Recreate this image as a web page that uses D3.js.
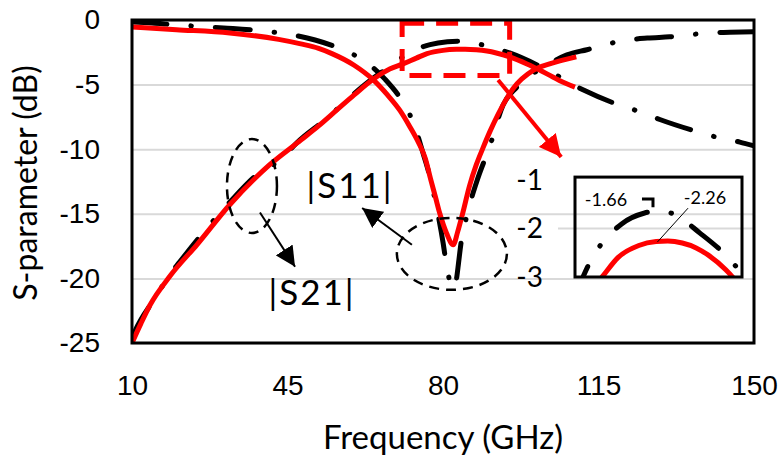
<!DOCTYPE html>
<html>
<head>
<meta charset="utf-8">
<script src="https://d3js.org/d3.v7.min.js"></script>
<style>
  body { margin: 0; background: #fff; }
  svg { display: block; font-family: Lato, "Open Sans", sans-serif; }
  .grid line { stroke: #d9d9d9; stroke-width: 2; }
  .tick-label { font-size: 28px; fill: #000; }
</style>
</head>
<body>
<svg id="chart" width="780" height="460"></svg>
<script>
// ---- data ----
const xTicks = [10, 45, 80, 115, 150];
const yTicks = [0, -5, -10, -15, -20, -25];
const insetTicks = [-1, -2, -3];

// black dash-dot |S21|
const s21BlackFreq = [10, 10.5, 15.6, 18.1, 20.8, 26.9, 32, 38, 43.8, 47.1, 53.9, 59, 64.7, 68.5, 72, 77.1, 81, 83.5, 86, 90.6, 95, 102.5, 111.5, 119.8, 124.3, 128.8, 137.8, 141.9, 146.8, 150];
const s21BlackDb   = [-24.6, -24.2, -21.3, -19.9, -18.7, -16.1, -14.1, -12.0, -10.7, -9.5, -7.6, -6.0, -4.4, -3.5, -2.6, -1.9, -1.68, -1.64, -1.7, -2.1, -2.55, -3.7, -5.4, -6.6, -7.1, -7.7, -8.7, -9.1, -9.45, -9.75];

// black dash-dot |S11|
const s11BlackFreq = [10, 14.5, 19, 27.5, 32.7, 38, 46, 51.2, 56, 60, 63.6, 67, 70.3, 72.5, 74.1, 75.5, 77.1, 78.9, 80, 80.8, 81.8, 82.6, 83.1, 83.5, 84, 85.4, 87.6, 90.6, 93.5, 96.6, 103.4, 107.9, 112.4, 121.4, 126, 131, 140, 144.6, 150];
const s11BlackDb   = [-0.15, -0.23, -0.35, -0.55, -0.65, -0.8, -1.15, -1.55, -2.1, -2.7, -3.5, -4.6, -6.0, -7.3, -8.7, -10.3, -12.2, -15.1, -17.2, -19.0, -20.5, -20.8, -19.9, -18.8, -17.4, -15.1, -12.5, -9.7, -6.6, -5.2, -3.5, -2.7, -2.3, -1.55, -1.4, -1.3, -1.0, -0.95, -0.9];

// red |S21|
const s21RedFreq = [10, 12, 14, 18.6, 24.6, 32, 41, 48, 52, 56, 60, 64.2, 68, 71, 74, 76.4, 80, 83, 85, 87.5, 89.9, 92, 95, 98.9, 102.5, 106.3, 109.7];
const s21RedDb   = [-25, -23.5, -22.1, -19.8, -17.4, -14.3, -11.2, -9.3, -8.2, -7.0, -5.8, -4.6, -3.8, -3.4, -2.95, -2.6, -2.35, -2.27, -2.26, -2.3, -2.4, -2.55, -2.85, -3.4, -4.0, -4.7, -5.2];

// red |S11|
const s11RedFreq = [10, 20, 32, 43, 48, 52, 55, 60, 64.2, 67.5, 70.3, 72.6, 74.5, 76, 77.2, 78.3, 79.3, 80.8, 82.3, 83.3, 84.4, 86, 87.5, 89, 90.6, 92.4, 95.8, 100.3, 104, 110];
const s11RedDb   = [-0.55, -0.75, -1.0, -1.5, -1.85, -2.2, -2.6, -3.5, -4.6, -5.8, -7.0, -8.3, -9.5, -10.7, -12.3, -13.7, -15.0, -16.5, -17.4, -16.4, -15.0, -12.8, -11.2, -9.9, -8.6, -7.3, -5.3, -3.9, -3.4, -2.85];

const svg = d3.select('#chart');
const margin = { left: 132, top: 20, right: 26, bottom: 117 };
const W = 780, H = 460;

const x = d3.scaleLinear().domain([10, 150]).range([margin.left, W - margin.right]);
const y = d3.scaleLinear().domain([-25, 0]).range([H - margin.bottom, margin.top]);

// inset scales (zoom of the peak region)
const ix = d3.scaleLinear().domain([69, 97.8]).range([575, 742]);
const iy = d3.scaleLinear().domain([-3, -1]).range([277, 180]);

const BLACK_DASH = '35 24 0.5 24';

// gridlines
svg.append('g')
  .attr('class', 'grid')
  .attr('transform', `translate(${margin.left},0)`)
  .call(d3.axisLeft(y).tickValues(yTicks).tickSize(-(x.range()[1] - x.range()[0])).tickFormat(''))
  .call(g => g.select('.domain').remove());

// inset gridline (-2)
svg.append('g')
  .attr('class', 'grid')
  .selectAll('line')
  .data([-2])
  .enter()
  .append('line')
  .attr('x1', 558).attr('x2', x.range()[1])
  .attr('y1', d => iy(d)).attr('y2', d => iy(d));

// y tick labels
svg.append('g')
  .attr('transform', `translate(${margin.left},0)`)
  .call(d3.axisLeft(y).tickValues(yTicks).tickSize(0).tickPadding(32).tickFormat(d => String(d)))
  .call(g => g.select('.domain').remove())
  .selectAll('text')
  .attr('class', 'tick-label')
  .attr('font-family', null).attr('font-size', null);

// x tick labels
svg.append('g')
  .attr('transform', `translate(0,${y.range()[0]})`)
  .call(d3.axisBottom(x).tickValues(xTicks).tickSize(0).tickPadding(32).tickFormat(d => String(d)))
  .call(g => g.select('.domain').remove())
  .selectAll('text')
  .attr('class', 'tick-label')
  .attr('font-family', null).attr('font-size', null);

// axis titles
svg.append('text')
  .attr('transform', 'translate(37,183) rotate(-90)')
  .attr('text-anchor', 'middle')
  .style('font-size', '32px')
  .text('S-parameter (dB)');

svg.append('text')
  .attr('x', 443).attr('y', 449)
  .attr('text-anchor', 'middle')
  .style('font-size', '33px')
  .text('Frequency (GHz)');

// curves
const line = d3.line().x(d => x(d[0])).y(d => y(d[1])).curve(d3.curveMonotoneX);
const series = [
  { f: s21BlackFreq, v: s21BlackDb, color: '#000', dash: BLACK_DASH },
  { f: s11BlackFreq, v: s11BlackDb, color: '#000', dash: BLACK_DASH },
  { f: s21RedFreq, v: s21RedDb, color: '#ff0000', dash: null },
  { f: s11RedFreq, v: s11RedDb, color: '#ff0000', dash: null }
];

svg.append('clipPath').attr('id', 'plotClip')
  .append('rect')
  .attr('x', margin.left).attr('y', margin.top)
  .attr('width', x.range()[1] - margin.left).attr('height', y.range()[0] - margin.top);

svg.append('g')
  .attr('clip-path', 'url(#plotClip)')
  .selectAll('path')
  .data(series)
  .enter()
  .append('path')
  .attr('d', d => line(d3.zip(d.f, d.v)))
  .attr('fill', 'none')
  .attr('stroke', d => d.color)
  .attr('stroke-width', 5)
  .attr('stroke-linecap', d => d.dash ? 'round' : 'butt')
  .attr('stroke-linejoin', 'round')
  .attr('stroke-dasharray', d => d.dash);

// arrowheads
const defs = svg.append('defs');
defs.append('marker')
  .attr('id', 'headBlack')
  .attr('viewBox', '0 0 10 10').attr('refX', 10).attr('refY', 5)
  .attr('markerWidth', 10).attr('markerHeight', 10)
  .attr('markerUnits', 'strokeWidth')
  .attr('orient', 'auto')
  .append('path').attr('d', 'M0,0L10,5L0,10Z').attr('fill', '#000');
defs.append('marker')
  .attr('id', 'headRed')
  .attr('viewBox', '0 0 10 10').attr('refX', 10).attr('refY', 5)
  .attr('markerWidth', 5.5).attr('markerHeight', 5.5)
  .attr('markerUnits', 'strokeWidth')
  .attr('orient', 'auto')
  .append('path').attr('d', 'M0,0L10,5L0,10Z').attr('fill', '#ff0000');

// red dashed box around the peak region
svg.append('rect')
  .attr('x', x(70.8)).attr('y', y(-0.25))
  .attr('width', x(95) - x(70.8)).attr('height', y(-4.3) - y(-0.25))
  .attr('fill', 'none')
  .attr('stroke', '#ff0000')
  .attr('stroke-width', 5)
  .attr('stroke-dasharray', '22 12');

// red arrow to inset
svg.append('line')
  .attr('x1', x(92.4)).attr('y1', y(-4.64))
  .attr('x2', x(106.6)).attr('y2', y(-10.6))
  .attr('stroke', '#ff0000').attr('stroke-width', 4)
  .attr('marker-end', 'url(#headRed)');

// dashed ellipses
const ellipses = [
  { cx: 37.0, cy: -12.85, rx: 25, ry: 47 },
  { cx: 82.0, cy: -18.1, rx: 55, ry: 36 }
];
svg.selectAll('ellipse.mark')
  .data(ellipses)
  .enter()
  .append('ellipse')
  .attr('class', 'mark')
  .attr('cx', d => x(d.cx)).attr('cy', d => y(d.cy))
  .attr('rx', d => d.rx).attr('ry', d => d.ry)
  .attr('fill', 'none')
  .attr('stroke', '#000').attr('stroke-width', 2.5)
  .attr('stroke-dasharray', '10 7');

// black arrows
const arrows = [
  { f1: 38.8, v1: -14.9, f2: 46.7, v2: -19.1 },
  { f1: 73.0, v1: -17.4, f2: 61.8, v2: -14.55 }
];
svg.selectAll('line.arrow')
  .data(arrows)
  .enter()
  .append('line')
  .attr('class', 'arrow')
  .attr('x1', d => x(d.f1)).attr('y1', d => y(d.v1))
  .attr('x2', d => x(d.f2)).attr('y2', d => y(d.v2))
  .attr('stroke', '#000').attr('stroke-width', 2)
  .attr('marker-end', 'url(#headBlack)');

// curve labels
svg.append('text')
  .attr('x', 350).attr('y', 198)
  .attr('text-anchor', 'middle')
  .style('font-size', '35px')
  .style('letter-spacing', '2px')
  .text('|S11|');
svg.append('text')
  .attr('x', 312).attr('y', 305)
  .attr('text-anchor', 'middle')
  .style('font-size', '35px')
  .style('letter-spacing', '2px')
  .text('|S21|');

// ---- inset ----
const iline = d3.line().x(d => ix(d[0])).y(d => iy(d[1])).curve(d3.curveMonotoneX);

svg.append('clipPath').attr('id', 'insetClip')
  .append('rect')
  .attr('x', ix.range()[0]).attr('y', iy(-0.94))
  .attr('width', ix.range()[1] - ix.range()[0]).attr('height', iy(-3) - iy(-0.94));

svg.append('g')
  .attr('clip-path', 'url(#insetClip)')
  .selectAll('path')
  .data([series[0], series[2]])
  .enter()
  .append('path')
  .attr('d', d => iline(d3.zip(d.f, d.v)))
  .attr('fill', 'none')
  .attr('stroke', d => d.color)
  .attr('stroke-width', 5)
  .attr('stroke-linecap', d => d.dash ? 'round' : 'butt')
  .attr('stroke-dasharray', d => d.dash);

svg.append('rect')
  .attr('x', ix.range()[0]).attr('y', iy(-0.94))
  .attr('width', ix.range()[1] - ix.range()[0]).attr('height', iy(-3) - iy(-0.94))
  .attr('fill', 'none')
  .attr('stroke', '#000').attr('stroke-width', 3);

svg.selectAll('text.inset-tick')
  .data(insetTicks)
  .enter()
  .append('text')
  .attr('class', 'inset-tick tick-label')
  .attr('x', 543).attr('y', d => iy(d))
  .attr('dy', '0.35em')
  .attr('text-anchor', 'end')
  .text(d => String(d));

// peak callouts
svg.append('text')
  .attr('x', 606).attr('y', 206)
  .attr('text-anchor', 'middle')
  .style('font-size', '18px')
  .text('-1.66');
svg.append('text')
  .attr('x', 705).attr('y', 204)
  .attr('text-anchor', 'middle')
  .style('font-size', '18px')
  .text('-2.26');

svg.append('path')
  .attr('d', d3.line()([[ix(80.55), iy(-1.39)], [ix(82.45), iy(-1.39)], [ix(82.45), iy(-1.56)]]))
  .attr('fill', 'none').attr('stroke', '#000').attr('stroke-width', 3);
svg.append('line')
  .attr('x1', ix(88.5)).attr('y1', iy(-1.58))
  .attr('x2', ix(83.2)).attr('y2', iy(-2.28))
  .attr('stroke', '#000').attr('stroke-width', 1);

// plot frame
svg.append('rect')
  .attr('x', margin.left).attr('y', margin.top)
  .attr('width', x.range()[1] - margin.left).attr('height', y.range()[0] - margin.top)
  .attr('fill', 'none')
  .attr('stroke', '#000').attr('stroke-width', 3);
</script>
</body>
</html>
